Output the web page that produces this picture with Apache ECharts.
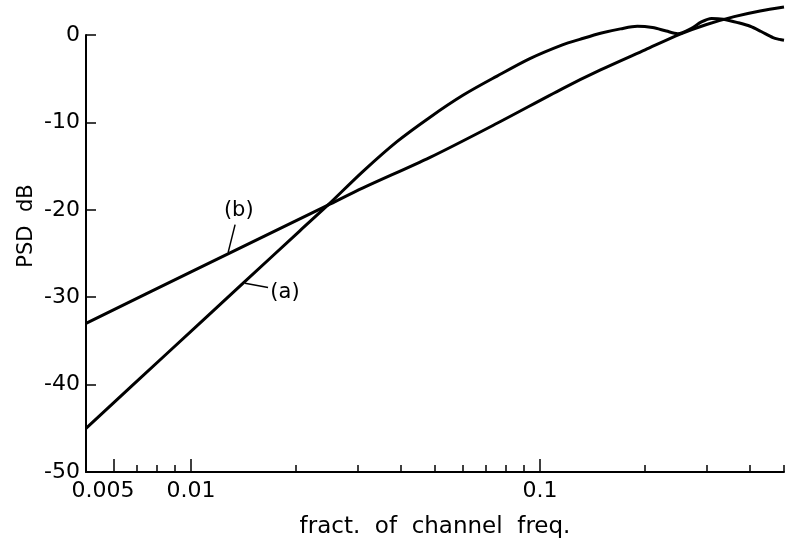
<!DOCTYPE html>
<html>
<head>
<meta charset="utf-8">
<title>PSD dB</title>
<script src="https://cdn.jsdelivr.net/npm/echarts@6/dist/echarts.min.js"></script>
<style>
html,body{margin:0;padding:0;background:#fff;}
#chart{width:786px;height:539px;}
</style>
</head>
<body>
<div id="chart"></div>
<script>
// curve (a)
var freqA = [0.005, 0.0085, 0.0141, 0.0205, 0.0246, 0.0311, 0.0389, 0.0484, 0.0601, 0.0753, 0.0935, 0.1164, 0.130, 0.149, 0.170, 0.190, 0.210, 0.230, 0.248, 0.270, 0.290, 0.310, 0.335, 0.370, 0.400, 0.430, 0.465, 0.485, 0.500];
var dbA   = [-45.0, -36.5, -28.4, -22.4, -19.5, -15.6, -12.2, -9.4, -6.9, -4.7, -2.7, -1.1, -0.5, 0.2, 0.7, 1.0, 0.85, 0.45, 0.15, 0.7, 1.5, 1.9, 1.8, 1.4, 1.0, 0.4, -0.3, -0.5, -0.6];
// curve (b)
var freqB = [0.005, 0.010, 0.0246, 0.0311, 0.0484, 0.0753, 0.1164, 0.149, 0.200, 0.252, 0.300, 0.360, 0.427, 0.500];
var dbB   = [-33.0, -27.1, -19.5, -17.5, -14.0, -10.1, -6.1, -4.0, -1.7, 0.1, 1.2, 2.1, 2.75, 3.2];

// axis ticks / labels
var xLabels = [0.005, 0.01, 0.1];
var xMajorTicks = [0.006, 0.01, 0.1];
var xMinorTicks = [0.007, 0.008, 0.009, 0.02, 0.03, 0.04, 0.05, 0.06, 0.07, 0.08, 0.09, 0.2, 0.3, 0.4, 0.4999];

// annotation leaders: [from], [to], label position
var leadA = [[0.01428, -28.4], [0.01662, -28.9]];
var labelA = [0.01858, -29.5];
var leadB = [[0.01277, -24.9], [0.01337, -21.7]];
var labelB = [0.0137, -20.1];

function pairs(xs, ys) {
    var out = [];
    for (var i = 0; i < xs.length; i++) out.push([xs[i], ys[i]]);
    return out;
}

var font = 'DejaVu Sans';
var myChart = echarts.init(document.getElementById('chart'));

function curve(name, xs, ys, lead, lab) {
    return {
        name: name,
        type: 'line',
        data: pairs(xs, ys),
        smooth: 0.3,
        showSymbol: false,
        clip: false,
        lineStyle: {color: '#000', width: 3},
        markLine: {
            silent: true,
            symbol: 'none',
            label: {show: false},
            lineStyle: {color: '#000', width: 1.5, type: 'solid'},
            data: [[{coord: lead[0]}, {coord: lead[1]}]]
        },
        markPoint: {
            silent: true,
            symbol: 'circle',
            symbolSize: 0,
            label: {show: true, position: 'inside', formatter: name, color: '#000', fontSize: 21, fontFamily: font},
            data: [{coord: lab}]
        }
    };
}

var option = {
    animation: false,
    backgroundColor: '#fff',
    grid: {left: 86, right: 2, top: 35, bottom: 67, containLabel: false, outerBoundsMode: 'none'},
    xAxis: [{
        type: 'log',
        logBase: 10,
        min: 0.005,
        max: 0.5,
        position: 'bottom',
        name: 'fract.  of  channel  freq.',
        nameLocation: 'middle',
        nameGap: 44,
        nameTextStyle: {color: '#000', fontSize: 23, fontFamily: font},
        axisLine: {onZero: false, lineStyle: {color: '#000', width: 2}},
        axisTick: {inside: true, length: 13, lineStyle: {color: '#000', width: 1.5}, customValues: xMajorTicks},
        axisLabel: {
            color: '#000', fontSize: 22, fontFamily: font, margin: 8,
            customValues: xLabels,
            formatter: function (v) {
                if (v < 0.0055) return '{p|0.005}';
                if (v < 0.05) return '0.01';
                return '0.1';
            },
            rich: {p: {color: '#000', fontSize: 22, fontFamily: font, padding: [0, 0, 0, 34]}}
        },
        splitLine: {show: false}
    }, {
        type: 'log',
        logBase: 10,
        min: 0.005,
        max: 0.5,
        position: 'bottom',
        axisLine: {show: false, onZero: false},
        axisTick: {inside: true, length: 7, lineStyle: {color: '#000', width: 1.5}, customValues: xMinorTicks},
        axisLabel: {show: false},
        splitLine: {show: false}
    }],
    yAxis: {
        type: 'value',
        min: -50,
        max: 0,
        interval: 10,
        axisLine: {show: true, onZero: false, lineStyle: {color: '#000', width: 2}},
        axisTick: {show: true, inside: true, length: 10, lineStyle: {color: '#000', width: 1.5}},
        axisLabel: {color: '#000', fontSize: 22, fontFamily: font, margin: 6},
        splitLine: {show: false}
    },
    graphic: [{
        type: 'text',
        x: 27,
        y: 226,
        rotation: Math.PI / 2,
        style: {text: 'PSD  dB', fill: '#000', fontSize: 21, fontFamily: font, align: 'center', verticalAlign: 'middle'}
    }],
    series: [
        curve('(a)', freqA, dbA, leadA, labelA),
        curve('(b)', freqB, dbB, leadB, labelB)
    ]
};
myChart.setOption(option);
</script>
</body>
</html>
